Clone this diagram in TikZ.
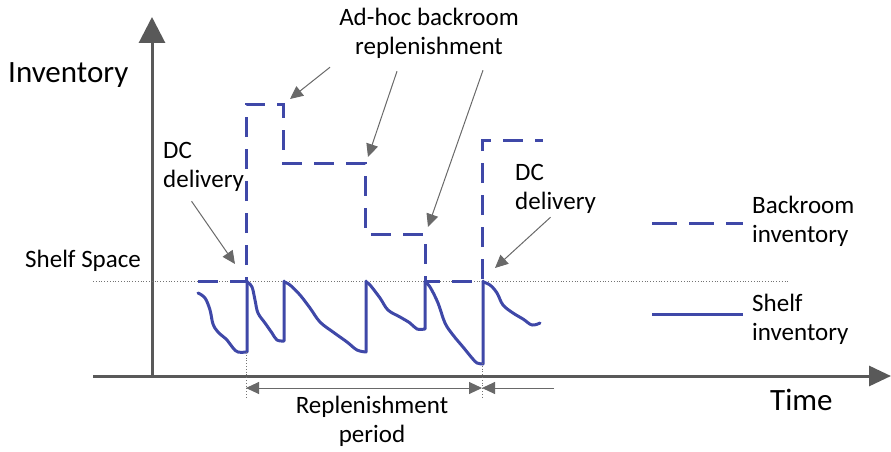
\documentclass[tikz,border=0pt]{standalone}
\usepackage{fontspec}
\setmainfont{Carlito}
\usetikzlibrary{arrows.meta,calc,positioning}
\definecolor{invblue}{RGB}{63,72,168}
\definecolor{axisgray}{RGB}{89,89,89}
\definecolor{notegray}{RGB}{105,105,105}
\tikzset{
  axisline/.style={line width=3pt, draw=axisgray, -{Triangle[length=24pt,width=24pt]}},
  backroom/.style={line width=3pt, draw=invblue, dash pattern=on 20pt off 12pt},
  shelf/.style={line width=3pt, draw=invblue, line join=round, line cap=round},
  note/.style={draw=notegray, line width=1pt, -{Triangle[length=13pt,width=12pt]}},
  period/.style={draw=notegray, line width=1pt, {Triangle[length=13pt,width=12pt]}-{Triangle[length=13pt,width=12pt]}},
  txt/.style={inner sep=0pt, font=\fontsize{25}{29}\selectfont},
  bigtxt/.style={inner sep=0pt, font=\fontsize{31}{36}\selectfont},
  guide/.style={draw=black!55, dotted, line width=0.8pt}
}

\begin{document}
\begin{tikzpicture}[x=1pt,y=-1pt]
  \useasboundingbox (0,0) rectangle (891,452);

  % axes
  \coordinate (origin) at (152,376);
  \coordinate (xstart) at (93,376);
  \coordinate (xend) at (891,376);
  \coordinate (yend) at (152,17);
  \draw[axisline, -{Triangle[length=22pt,width=20pt]}] (xstart) -- (xend);
  \draw[axisline, -{Triangle[length=26pt,width=26pt]}] (origin) -- (yend);
  \node[bigtxt, anchor=base west] (Inventory) at (8,82) {Inventory};
  \node[bigtxt, anchor=base west] (Time) at (770,410) {Time};

  % shelf space level
  \node[txt, anchor=base west] (ShelfSpace) at (25,267) {Shelf Space};
  \coordinate (s_start) at (93,281);
  \coordinate (s_end) at (790,281);
  \draw[guide] (s_start) -- (s_end);

  % backroom inventory
  \draw[backroom] (198,281) -| (246,104) -| (283,163) -| (365,234) -| (425,281) -| (482,140) -- (543,140);

  % shelf inventory
  \draw[shelf] plot[smooth, tension=0.6] coordinates {(198,293) (205,298) (210,310) (213,324) (218,332) (227,340) (233,348) (238,352) (247,352)} -- (247,281);
  \draw[shelf] plot[smooth, tension=0.6] coordinates {(247,282) (252,287) (255,300) (258,313) (265,323) (272,333) (277,340) (284,341)} -- (284,281);
  \draw[shelf] plot[smooth, tension=0.6] coordinates {(284,282) (290,285) (300,295) (310,308) (320,322) (333,332) (347,342) (357,350) (366,352)} -- (366,281);
  \draw[shelf] plot[smooth, tension=0.6] coordinates {(366,282) (370,285) (380,298) (388,310) (400,317) (410,323) (417,329) (425,329)} -- (425,281);
  \draw[shelf] plot[smooth, tension=0.6] coordinates {(425,282) (430,287) (438,303) (445,323) (453,335) (463,347) (472,358) (477,363) (483,364)} -- (483,281);
  \draw[shelf] plot[smooth, tension=0.6] coordinates {(483,282) (490,285) (497,293) (503,305) (513,313) (523,319) (532,325) (540,323)};

  % annotations (base anchor = last line)
  \node[txt, anchor=base west, align=left] (DC_1) at (163,187) {DC\\delivery};
  \node[txt, anchor=base west, align=left] (DC_2) at (515,209) {DC\\delivery};
  \node[txt, anchor=base, align=center] (AdHoc) at (429,55) {Ad-hoc backroom\\replenishment};
  \coordinate (dc_1) at (235,264);
  \coordinate (dc_2) at (495,268);
  \coordinate (adhoc_1) at (290,99);
  \coordinate (adhoc_2) at (368,157);
  \coordinate (adhoc_3) at (428,227);
  \draw[note] ($(DC_1.south)+(-12,10)$) -- (dc_1);
  \draw[note] ($(DC_2.south)+(-5,4)$) -- (dc_2);
  \draw[note] ($(AdHoc.south)+(-99,8)$) -- (adhoc_1);
  \draw[note] ($(AdHoc.south)+(-32,12)$) -- (adhoc_2);
  \draw[note] ($(AdHoc.south)+(54,11)$) -- (adhoc_3);

  % replenishment period
  \coordinate (p_1) at (246,388);
  \coordinate (p_2) at (482,388);
  \coordinate (p_3) at (554,388);
  \draw[guide] (246,352) -- (246,398);
  \draw[guide] (482,363) -- (482,398);
  \draw[period] (p_1) -- (p_2);
  \draw[note] (p_3) -- (p_2);
  \node[txt, anchor=base, align=center] (Period) at (372,442) {Replenishment\\period};

  % legend
  \node[txt, anchor=base west, align=left] (BackLeg) at (752,242) {Backroom\\inventory};
  \node[txt, anchor=base west, align=left] (ShelfLeg) at (752,340) {Shelf\\inventory};
  \coordinate (bl_1) at (652,223);
  \coordinate (bl_2) at (743,223);
  \coordinate (sl_1) at (652,314);
  \coordinate (sl_2) at (743,314);
  \draw[backroom, dash pattern=on 25pt off 12pt] (bl_1) -- (bl_2);
  \draw[shelf, line cap=butt] (sl_1) -- (sl_2);
\end{tikzpicture}
\end{document}
